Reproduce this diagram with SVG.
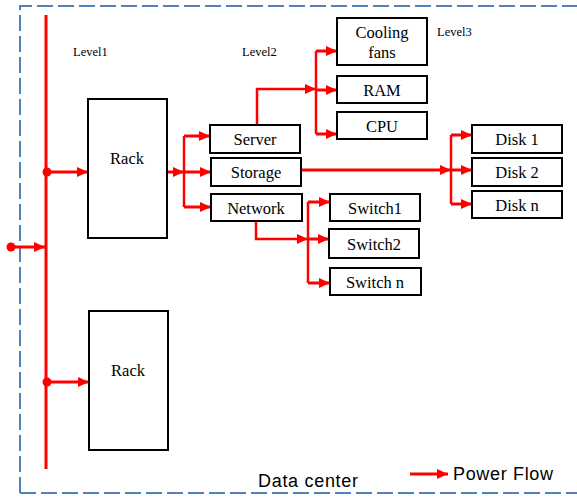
<svg xmlns="http://www.w3.org/2000/svg" width="577" height="497" viewBox="0 0 577 497">
<style>
.box{fill:#fff;stroke:#000;stroke-width:2}
.lbl{font-family:"Liberation Serif",serif;font-size:16.5px;fill:#000;text-anchor:middle}
.lvl{font-family:"Liberation Serif",serif;font-size:12.5px;fill:#000}
.cal{font-family:"Liberation Sans",sans-serif;font-size:18px;fill:#000}
.w{fill:none;stroke:#ff0000;stroke-width:3}
.t{fill:none;stroke:#ff0000;stroke-width:2.5}
</style>
<defs>
<marker id="ah" markerUnits="userSpaceOnUse" markerWidth="12" markerHeight="10" refX="11" refY="5" orient="auto">
<path d="M0,0 L11,5 L0,10 z" fill="#ff0000"/>
</marker>
</defs>
<rect width="577" height="497" fill="#fff"/>
<path d="M20,493 V6 H580 M20,493 H580" fill="none" stroke="#4f81bd" stroke-width="2" stroke-dasharray="16,5"/>
<text class="lvl" x="73" y="56">Level1</text>
<text class="lvl" x="242" y="56">Level2</text>
<text class="lvl" x="437" y="36">Level3</text>
<g id="connectors">
<line class="w" x1="46" y1="15" x2="46" y2="469" stroke-width="4"/>
<circle cx="11" cy="247" r="4.5" fill="#ff0000"/>
<line class="w" x1="11" y1="247" x2="45" y2="247" marker-end="url(#ah)"/>
<circle cx="47" cy="172" r="4.5" fill="#ff0000"/>
<line class="w" x1="47" y1="172" x2="88" y2="172" marker-end="url(#ah)"/>
<circle cx="47" cy="382" r="4.5" fill="#ff0000"/>
<line class="w" x1="47" y1="382" x2="89" y2="382" marker-end="url(#ah)"/>
<line class="w" x1="167" y1="172" x2="184" y2="172" marker-end="url(#ah)"/>
<line class="t" x1="184" y1="136" x2="184" y2="207"/>
<line class="w" x1="184" y1="136" x2="210" y2="136" marker-end="url(#ah)"/>
<line class="w" x1="184" y1="172" x2="211" y2="172" marker-end="url(#ah)"/>
<line class="w" x1="184" y1="207" x2="211" y2="207" marker-end="url(#ah)"/>
<path class="t" d="M257,125 V89 H316" marker-end="url(#ah)"/>
<line class="t" x1="316" y1="51" x2="316" y2="134"/>
<line class="w" x1="316" y1="51" x2="337" y2="51" marker-end="url(#ah)"/>
<line class="w" x1="316" y1="90" x2="337" y2="90" marker-end="url(#ah)"/>
<line class="w" x1="316" y1="134" x2="337" y2="134" marker-end="url(#ah)"/>
<path class="w" d="M301,170 H451" marker-end="url(#ah)"/>
<line class="t" x1="451" y1="135" x2="451" y2="204"/>
<line class="w" x1="451" y1="135" x2="472" y2="135" marker-end="url(#ah)"/>
<line class="w" x1="451" y1="170" x2="472" y2="170" marker-end="url(#ah)"/>
<line class="w" x1="451" y1="204" x2="472" y2="204" marker-end="url(#ah)"/>
<path class="t" d="M256,221 V239 H308" marker-end="url(#ah)"/>
<line class="t" x1="308" y1="202" x2="308" y2="283"/>
<line class="w" x1="308" y1="202" x2="330" y2="202" marker-end="url(#ah)"/>
<line class="w" x1="308" y1="239" x2="329" y2="239" marker-end="url(#ah)"/>
<line class="w" x1="308" y1="283" x2="330" y2="283" marker-end="url(#ah)"/>
<line class="w" x1="410" y1="474" x2="448" y2="474" marker-end="url(#ah)"/>
</g>
<g id="rack1"><rect class="box" x="88" y="99" width="79" height="139"/><text class="lbl" x="127" y="164">Rack</text></g>
<g id="rack2"><rect class="box" x="89" y="311" width="79" height="139"/><text class="lbl" x="128" y="376">Rack</text></g>
<g id="server"><rect class="box" x="210" y="125" width="90" height="28"/><text class="lbl" x="255" y="145">Server</text></g>
<g id="storage"><rect class="box" x="211" y="158" width="90" height="28"/><text class="lbl" x="256" y="178">Storage</text></g>
<g id="network"><rect class="box" x="211" y="194" width="91" height="27"/><text class="lbl" x="256" y="214">Network</text></g>
<g id="cooling"><rect class="box" x="337" y="18" width="90" height="47"/><text class="lbl" x="382" y="38">Cooling</text><text class="lbl" x="382" y="58">fans</text></g>
<g id="ram"><rect class="box" x="337" y="76" width="90" height="27"/><text class="lbl" x="382" y="96">RAM</text></g>
<g id="cpu"><rect class="box" x="337" y="112" width="90" height="27"/><text class="lbl" x="382" y="132">CPU</text></g>
<g id="disk1"><rect class="box" x="472" y="125" width="90" height="28"/><text class="lbl" x="517" y="145">Disk 1</text></g>
<g id="disk2"><rect class="box" x="472" y="158" width="90" height="28"/><text class="lbl" x="517" y="178">Disk 2</text></g>
<g id="diskn"><rect class="box" x="472" y="191" width="90" height="27"/><text class="lbl" x="517" y="211">Disk n</text></g>
<g id="switch1"><rect class="box" x="330" y="194" width="90" height="27"/><text class="lbl" x="375" y="214">Switch1</text></g>
<g id="switch2"><rect class="box" x="329" y="229" width="90" height="29"/><text class="lbl" x="374" y="250">Switch2</text></g>
<g id="switchn"><rect class="box" x="330" y="268" width="91" height="27"/><text class="lbl" x="375" y="288">Switch n</text></g>
<text class="cal" x="258" y="487" textLength="100">Data center</text>
<text class="cal" x="453" y="480" textLength="100">Power Flow</text>
</svg>
